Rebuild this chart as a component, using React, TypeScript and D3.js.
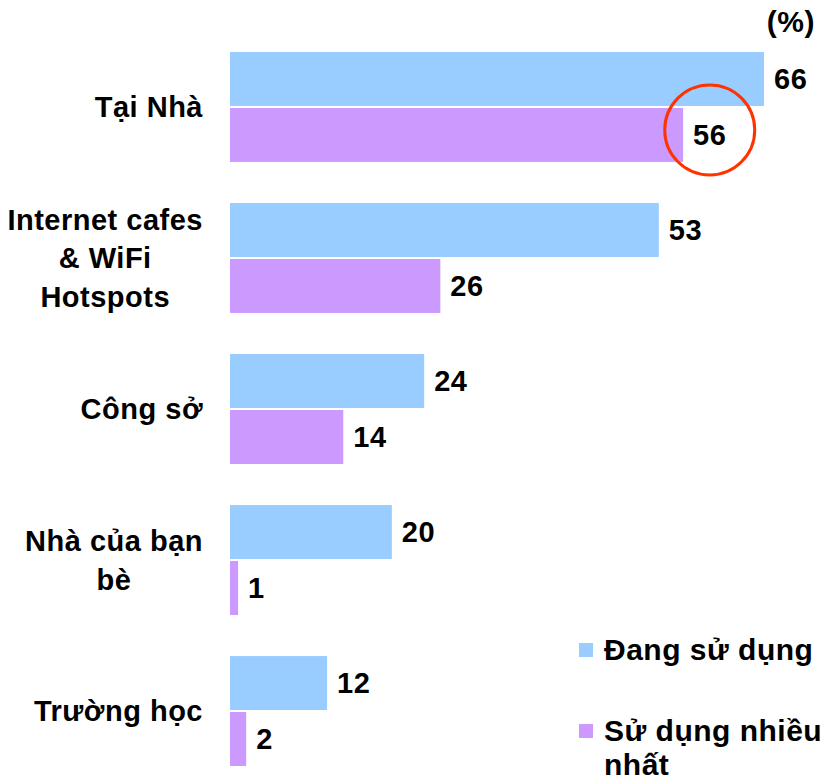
import React, { useEffect, useRef } from "react";
import * as d3 from "d3";

// categories (multi-line labels split by "\n")
const categories = [
  "Tại Nhà",
  "Internet cafes\n& WiFi\nHotspots",
  "Công sở",
  "Nhà của bạn\nbè",
  "Trường học"
];
const dangSuDung = [66, 53, 24, 20, 12];
const suDungNhieuNhat = [56, 26, 14, 1, 2];
const seriesNames = ["Đang sử dụng", "Sử dụng nhiều\nnhất"];
const seriesColors = ["#99ccff", "#cc99ff"];
const unitLabel = "(%)";
const highlight = { category: "Tại Nhà", series: 1 };

const WIDTH = 821;
const HEIGHT = 780;
const FONT = "'Liberation Sans', Arial, Helvetica, sans-serif";
const FS = 29;
const LS = 0.5;

export default function App() {
  const ref = useRef<SVGSVGElement>(null);

  useEffect(() => {
    const svg = d3.select(ref.current);
    svg.selectAll("*").remove();

    const series = [dangSuDung, suDungNhieuNhat];

    const x = d3
      .scaleLinear()
      .domain([0, d3.max(dangSuDung) as number])
      .range([230, 764]);
    const y = d3
      .scaleBand()
      .domain(categories)
      .range([52, 766])
      .paddingInner(0.272);
    const ySub = d3
      .scaleBand()
      .domain(["0", "1"])
      .range([0, y.bandwidth()])
      .paddingInner(0.036);

    const g = svg
      .append("g")
      .attr("font-family", FONT)
      .attr("font-weight", "bold")
      .attr("letter-spacing", LS)
      .attr("fill", "#000");

    // bars + value labels
    series.forEach((values, s) => {
      const rows = values.map((v, i) => ({ cat: categories[i], v }));
      g.selectAll(`rect.s${s}`)
        .data(rows)
        .join("rect")
        .attr("class", `s${s}`)
        .attr("x", x(0))
        .attr("y", d => (y(d.cat) as number) + (ySub(String(s)) as number))
        .attr("width", d => x(d.v) - x(0))
        .attr("height", ySub.bandwidth())
        .attr("fill", seriesColors[s]);

      g.selectAll(`text.v${s}`)
        .data(rows)
        .join("text")
        .attr("class", `v${s}`)
        .attr("x", d => x(d.v) + 10)
        .attr(
          "y",
          d => (y(d.cat) as number) + (ySub(String(s)) as number) + ySub.bandwidth() / 2
        )
        .attr("dy", "0.36em")
        .attr("font-size", FS)
        .text(d => d.v);
    });

    // category labels: block right-aligned, lines centred inside it
    categories.forEach(cat => {
      const lines = cat.split("\n");
      const lh = 38.5;
      const cy = (y(cat) as number) + y.bandwidth() / 2;
      const t = g.append("text").attr("font-size", FS).attr("text-anchor", "middle");
      const spans = lines.map((ln, i) =>
        t
          .append("tspan")
          .attr("y", cy + (i - (lines.length - 1) / 2) * lh)
          .attr("dy", "0.36em")
          .text(ln)
      );
      const widths = spans.map(sp => (sp.node() as SVGTSpanElement).getComputedTextLength());
      const cx = 203 - (d3.max(widths) as number) / 2;
      spans.forEach(sp => sp.attr("x", cx));
    });

    // unit label
    g.append("text")
      .attr("x", 815)
      .attr("y", 32)
      .attr("text-anchor", "end")
      .attr("font-size", 30)
      .text(unitLabel);

    // highlight ring around the value label
    const hi = categories.indexOf(highlight.category);
    const hv = series[highlight.series][hi];
    const hLabel = g
      .selectAll<SVGTextElement, unknown>(`text.v${highlight.series}`)
      .filter((_, i) => i === hi)
      .node() as SVGTextElement;
    const hw = hLabel.getComputedTextLength();
    g.append("circle")
      .attr("cx", x(hv) + 10 + hw / 2)
      .attr(
        "cy",
        (y(highlight.category) as number) +
          (ySub(String(highlight.series)) as number) +
          ySub.bandwidth() / 2 -
          5
      )
      .attr("r", 45)
      .attr("fill", "none")
      .attr("stroke", "#ff3300")
      .attr("stroke-width", 3);

    // legend
    const legendY = [650, 731];
    seriesNames.forEach((name, s) => {
      g.append("rect")
        .attr("x", 579)
        .attr("y", legendY[s] - 7)
        .attr("width", 14)
        .attr("height", 14)
        .attr("fill", seriesColors[s]);
      const t = g.append("text").attr("font-size", 30);
      name.split("\n").forEach((ln, i) => {
        t.append("tspan")
          .attr("x", 604)
          .attr("y", legendY[s] + i * 34)
          .attr("dy", "0.34em")
          .text(ln);
      });
    });
  }, []);

  return (
    <svg
      ref={ref}
      width={WIDTH}
      height={HEIGHT}
      style={{ position: "absolute", left: 0, top: 0, background: "#fff" }}
    />
  );
}
